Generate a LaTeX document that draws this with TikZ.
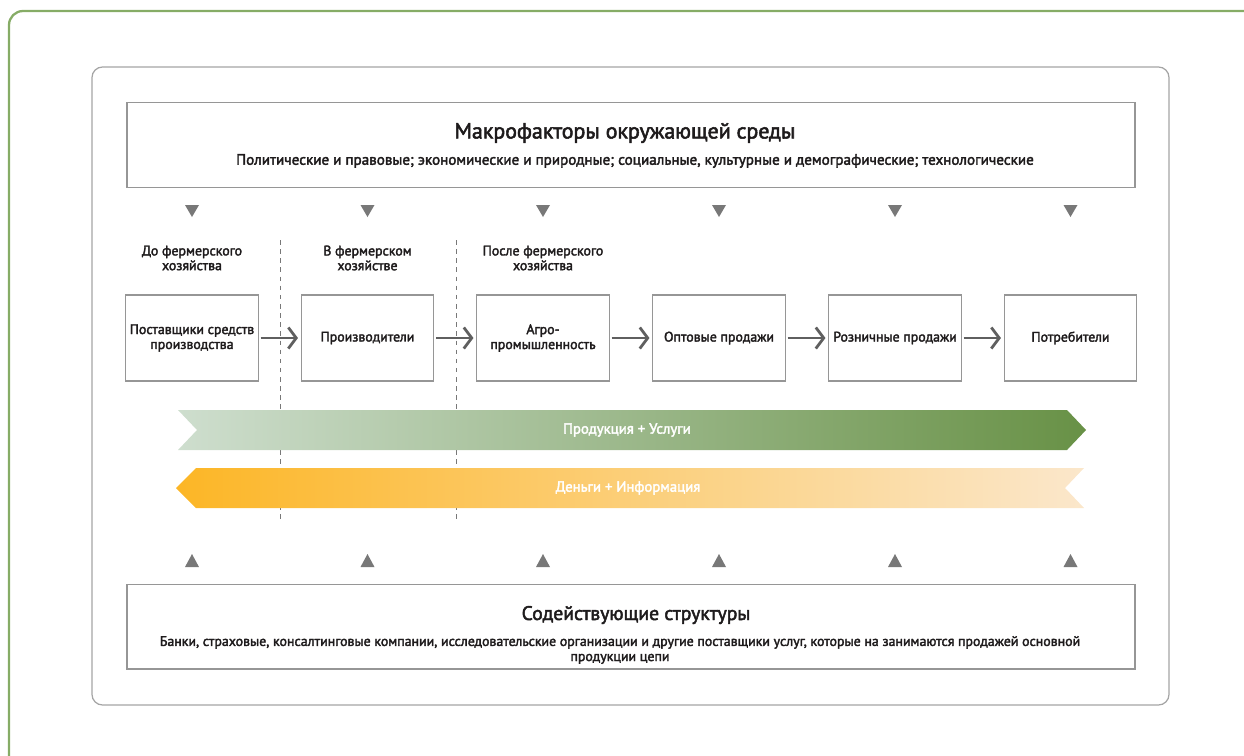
\documentclass[tikz,border=0pt]{standalone}
\usepackage{fontspec}
\setmainfont{PT Sans}
\newfontfamily\semib{PT Sans}[FakeBold=2.4]
\usetikzlibrary{arrows.meta}
\usetikzlibrary{positioning}

\definecolor{framegreen}{RGB}{134,172,102}
\definecolor{framegray}{RGB}{165,165,165}
\definecolor{boxgray}{RGB}{150,150,150}
\definecolor{arrowgray}{RGB}{95,95,95}
\definecolor{markgray}{RGB}{120,120,120}
\definecolor{ink}{RGB}{30,27,28}
\definecolor{goodsA}{RGB}{206,222,206}
\definecolor{goodsB}{RGB}{104,145,70}
\definecolor{cashA}{RGB}{252,182,38}
\definecolor{cashB}{RGB}{251,231,203}

\tikzset{
  bigbox/.style={draw=boxgray,line width=0.75pt,minimum width=573.7pt,minimum height=48.2pt,inner sep=0pt},
  chainbox/.style={draw=boxgray,line width=0.75pt,minimum width=75.4pt,minimum height=48.8pt,inner sep=1pt,align=center},
  headline/.style={font=\semib\fontsize{12.5}{14}\selectfont},
  subline/.style={font=\semib\fontsize{7.9}{8.6}\selectfont,align=center},
  stage/.style={font=\semib\fontsize{7.9}{8.4}\selectfont,align=center},
  bandtext/.style={font=\semib\fontsize{8.4}{9}\selectfont,text=white},
  flow/.style={draw=arrowgray,line width=1.6pt,shorten >=1.5pt,shorten <=1pt,
    -{Straight Barb[length=4.5pt,width=12pt,line width=1.6pt]}},
  divider/.style={draw=markgray,line width=0.55pt,dash pattern=on 2.6pt off 2.6pt}
}

\begin{document}
\begin{tikzpicture}[x=0.02cm,y=-0.02cm,>=stealth,text=ink,font=\semib\fontsize{7.9}{8.5}\selectfont]
\path[use as bounding box] (0,0) rectangle (1244,755);
\clip (0,0) rectangle (1244,755);
\draw[framegreen,line width=1.3pt,rounded corners=8pt] (9,11) rectangle (1300,810);
\draw[framegray,line width=0.7pt,rounded corners=6pt] (92,67) rectangle (1169,705);

% environment on top, supporting services below
\node[bigbox] (macro) at (631,145) {};
\node[headline] (macrohead) at (625,133) {Макрофакторы окружающей среды};
\node[subline,font=\semib\fontsize{8.6}{9}\selectfont] (macrotext) at (635,161) {Политические и правовые; экономические и природные; социальные, культурные и демографические; технологические};
\node[bigbox] (support) at (631,626.5) {};
\node[headline,font=\semib\fontsize{11.2}{13}\selectfont] (supporthead) at (636,615) {Содействующие структуры};
\node[subline] (supporttext) at (620,650) {Банки, страховые, консалтинговые компании, исследовательские организации и другие поставщики услуг, которые на занимаются продажей основной\\продукции цепи};

\foreach \x in {192,367.5,543,719,895,1070.5}{
  \fill[markgray] (\x-7,205) -- (\x+7,205) -- (\x,217) -- cycle;
  \fill[markgray] (\x-7,567) -- (\x+7,567) -- (\x,554) -- cycle;
}

\draw[divider] (280,240) -- (280,522);
\draw[divider] (456,240) -- (456,522);

\node[stage] (before) at (192,258) {До фермерского\\хозяйства};
\node[stage] (onfarm) at (367.5,258) {В фермерском\\хозяйстве};
\node[stage] (after) at (543,258) {После фермерского\\хозяйства};

% the chain itself
\node[chainbox] (supply) at (192,338) {Поставщики средств\\производства};
\node[chainbox] (prod) at (367.5,338) {Производители};
\node[chainbox] (agro) at (543,338) {Агро-\\промышленность};
\node[chainbox] (whole) at (719,338) {Оптовые продажи};
\node[chainbox] (retail) at (895,338) {Розничные продажи};
\node[chainbox] (cons) at (1070.5,338) {Потребители};
\draw[flow] (supply) -- (prod);
\draw[flow] (prod) -- (agro);
\draw[flow] (agro) -- (whole);
\draw[flow] (whole) -- (retail);
\draw[flow] (retail) -- (cons);

% goods go right, money comes back
\shade[left color=goodsA,right color=goodsB] (178,410) -- (1067,410) -- (1086,430)
  -- (1067,450) -- (178,450) -- (197,430) -- cycle;
\node[bandtext] (goods) at (627,430) {Продукция + Услуги};
\shade[left color=cashA,right color=cashB] (176,488) -- (196,468) -- (1084,468)
  -- (1065,488) -- (1084,508) -- (196,508) -- cycle;
\node[bandtext] (cash) at (628,488) {Деньги + Информация};
\end{tikzpicture}
\end{document}
